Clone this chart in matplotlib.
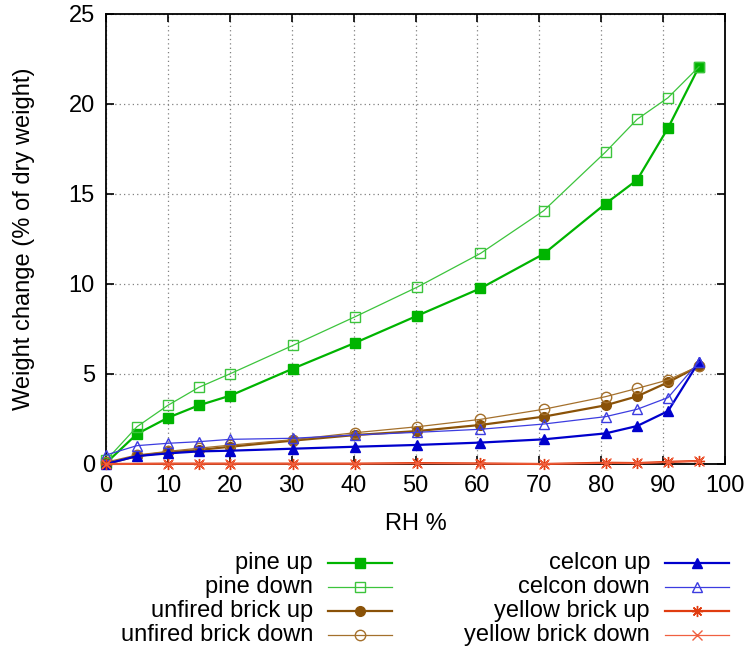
import numpy as np
import matplotlib
matplotlib.use("Agg")
import matplotlib.pyplot as plt
from matplotlib.lines import Line2D

plt.rcParams['font.family'] = ['Liberation Sans', 'DejaVu Sans']

# RH steps (%)
rh = [0, 5, 10, 15, 20.1, 30.2, 40.3, 50.3, 60.5, 70.7, 80.7, 85.8, 90.8, 95.8]
rh_yb = [0, 10, 15, 20.1, 30.2, 40.3, 50.3, 60.5, 70.7, 80.7, 85.8, 90.8, 95.8]

pine_up = [0.05, 1.67, 2.57, 3.26, 3.80, 5.30, 6.74, 8.24, 9.76, 11.67, 14.46, 15.78, 18.67, 22.07]
pine_down = [0.2, 2.07, 3.26, 4.26, 5.02, 6.59, 8.19, 9.83, 11.70, 14.07, 17.33, 19.15, 20.35, 22.07]
brick_up = [0.0, 0.44, 0.65, 0.78, 0.96, 1.30, 1.61, 1.83, 2.17, 2.63, 3.26, 3.76, 4.54, 5.44]
brick_down = [0.1, 0.50, 0.70, 0.88, 1.05, 1.35, 1.74, 2.07, 2.48, 3.04, 3.74, 4.20, 4.67, 5.44]
celcon_up = [0.0, 0.44, 0.59, 0.70, 0.74, 0.85, 0.96, 1.06, 1.19, 1.37, 1.70, 2.11, 2.94, 5.69]
celcon_down = [0.5, 1.02, 1.15, 1.24, 1.37, 1.43, 1.61, 1.76, 1.93, 2.22, 2.63, 3.04, 3.69, 5.69]
yellow_up = [0.0, 0.02, 0.02, 0.02, 0.02, 0.02, 0.05, 0.03, 0.0, 0.07, 0.05, 0.12, 0.17]
yellow_down = [0.0, 0.01, 0.01, 0.01, 0.01, 0.01, 0.03, 0.02, 0.01, 0.05, 0.04, 0.10, 0.17]

series = [
    ("pine up", rh, pine_up, dict(color="#00b400", lw=1.6, marker="s", ms=6.5, mfc="#00b400")),
    ("pine down", rh, pine_down, dict(color="#3cc43c", lw=0.9, marker="s", ms=7.5, mfc="none")),
    ("unfired brick up", rh, brick_up, dict(color="#8a5208", lw=1.6, marker="o", ms=7, mfc="#8a5208")),
    ("unfired brick down", rh, brick_down, dict(color="#a4702c", lw=0.9, marker="o", ms=7.5, mfc="none")),
    ("celcon up", rh, celcon_up, dict(color="#0000cc", lw=1.6, marker="^", ms=6.5, mfc="#0000cc")),
    ("celcon down", rh, celcon_down, dict(color="#3c3ce0", lw=0.9, marker="^", ms=7, mfc="none")),
    ("yellow brick up", rh_yb, yellow_up, dict(color="#e03c10", lw=1.6, marker=(8, 2, 0), ms=8, mfc="none")),
    ("yellow brick down", rh_yb, yellow_down, dict(color="#f06040", lw=0.9, marker="x", ms=6.5, mfc="none")),
]

fig = plt.figure(figsize=(7.49, 6.51), dpi=100)
ax = fig.add_axes([106 / 749, 1 - 464 / 651, (725 - 106) / 749, (464 - 14) / 651])

for label, x, y, st in series:
    ax.plot(x, y, color=st["color"], lw=st["lw"], marker=st["marker"], ms=st["ms"],
            mfc=st["mfc"], mec=st["color"], mew=1.0, clip_on=False, zorder=3)

ax.set_xlim(0, 100)
ax.set_ylim(0, 25)
ax.set_xticks(np.arange(0, 101, 10))
ax.set_yticks(np.arange(0, 26, 5))
ax.grid(True, linestyle=(0, (1, 2.5)), color="#808080", lw=0.9)
ax.tick_params(direction="in", length=6, width=1.2, top=True, right=True,
               labelsize=17, pad=8)
for s in ax.spines.values():
    s.set_linewidth(1.3)

ax.set_xlabel("RH %", fontsize=17)
ax.set_ylabel("Weight change (% of dry weight)", fontsize=17)
ax.xaxis.set_label_coords(0.5, -0.11)
ax.yaxis.set_label_coords(-0.115, 0.5)

# legend laid out like the gnuplot key: text right-aligned, sample on the right
W, H = 749, 651
rows_y = [563, 587, 611, 635]
cols = [(313, 328, 392), (650, 665, 729)]
for i, (label, x, y, st) in enumerate(series):
    col = 0 if i < 4 else 1
    ty = 1 - rows_y[i % 4] / H
    tx, l0, l1 = cols[col]
    fig.text(tx / W, ty, label, ha="right", va="center", fontsize=17)
    fig.add_artist(Line2D([l0 / W, l1 / W], [ty, ty], color=st["color"], lw=st["lw"],
                          transform=fig.transFigure))
    fig.add_artist(Line2D([(l0 + l1) / 2 / W], [ty], color=st["color"], marker=st["marker"],
                          ms=st["ms"], mfc=st["mfc"], mec=st["color"], mew=1.0, lw=0,
                          transform=fig.transFigure))

fig.savefig("out.png", dpi=100)
